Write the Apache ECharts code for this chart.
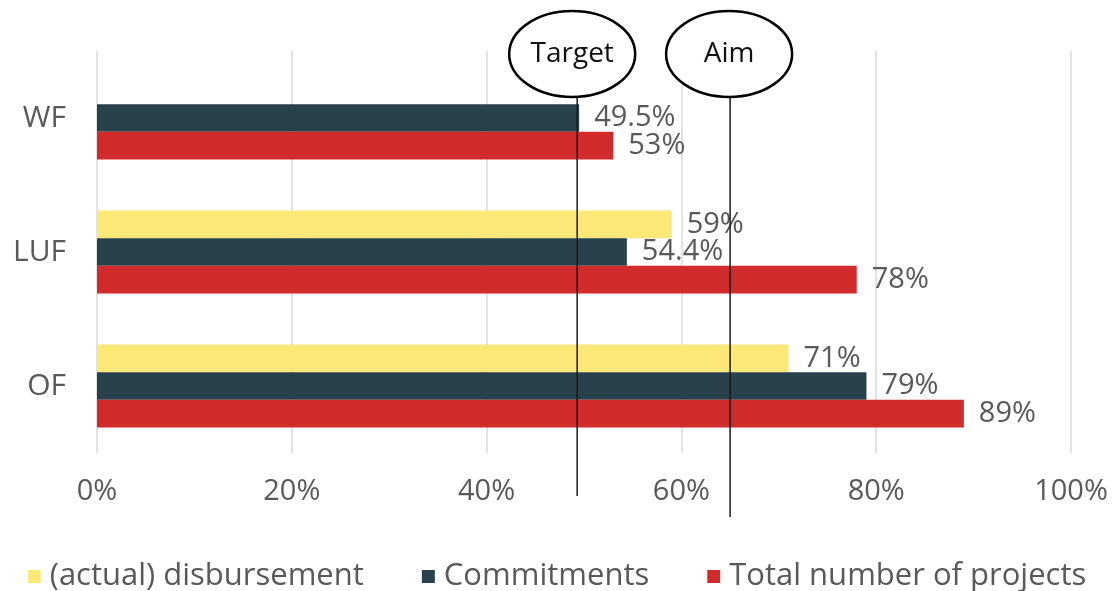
<!DOCTYPE html>
<html>
<head>
<meta charset="utf-8">
<script src="https://cdn.jsdelivr.net/npm/echarts@6/dist/echarts.min.js"></script>
<style>
html,body{margin:0;padding:0;background:#fff;}
#chart{width:1114px;height:591px;}
</style>
</head>
<body>
<div id="chart"></div>
<script>
const categories = ['WF', 'LUF', 'OF'];
const seriesNames = ['(actual) disbursement', 'Commitments', 'Total number of projects'];
const disbursement = [null, 59, 71];
const commitments = [49.5, 54.4, 79];
const totalProjects = [53, 78, 89];
const xTicks = [0, 20, 40, 60, 80, 100];
const refLines = [{name: 'Target', value: 49.3}, {name: 'Aim', value: 65}];

const FONT = '"Open Sans"';
const TXT = '#595959';
const W = 'normal';
const colors = ['#FBE877', '#29414A', '#D22B2B'];

const chart = echarts.init(document.getElementById('chart'), null, {renderer: 'canvas'});

function barSeries(name, data, color) {
  return {
    name: name,
    type: 'bar',
    data: data,
    barGap: '0%',
    barCategoryGap: '38%',
    itemStyle: {color: color},
    label: {
      show: true,
      position: 'right',
      distance: 15,
      color: TXT,
      fontFamily: FONT,
      fontWeight: W,
      fontSize: 29,
      formatter: p => p.value == null ? '' : p.value + '%'
    }
  };
}

chart.setOption({
  animation: false,
  backgroundColor: '#fff',
  grid: {left: 97, right: 43, top: 51, height: 402, containLabel: false},
  xAxis: {
    type: 'value',
    min: xTicks[0],
    max: xTicks[xTicks.length - 1],
    interval: 20,
    axisLine: {show: false},
    axisTick: {show: false},
    splitLine: {show: true, lineStyle: {color: '#D9D9D9', width: 1.5}},
    axisLabel: {color: TXT, fontFamily: FONT, fontWeight: W, fontSize: 29, margin: 24, formatter: v => v + '%'}
  },
  yAxis: {
    type: 'category',
    data: categories,
    inverse: true,
    axisLine: {show: false},
    axisTick: {show: false},
    axisLabel: {color: TXT, fontFamily: FONT, fontWeight: W, fontSize: 30, margin: 31}
  },
  legend: {
    top: 556,
    left: 'center',
    itemWidth: 13,
    itemHeight: 13,
    itemGap: 58,
    icon: 'rect',
    data: seriesNames,
    textStyle: {color: TXT, fontFamily: FONT, fontWeight: W, fontSize: 31, padding: [0, 0, 0, 4]}
  },
  series: [
    barSeries(seriesNames[0], disbursement, colors[0]),
    barSeries(seriesNames[1], commitments, colors[1]),
    barSeries(seriesNames[2], totalProjects, colors[2])
  ]
});

// Reference lines with ellipse captions, positioned through the axis scale
const ends = [496, 517];
const offs = [-5, -1];
const graphics = [];
refLines.forEach((r, i) => {
  const x = chart.convertToPixel({gridIndex: 0}, [r.value, 0])[0];
  const cy = 54;
  graphics.push({
    type: 'line',
    shape: {x1: x, y1: cy + 43, x2: x, y2: ends[i]},
    style: {stroke: '#1a1a1a', lineWidth: 1.5},
    z: 100
  });
  graphics.push({
    type: 'ellipse',
    shape: {cx: x + offs[i], cy: cy, rx: 63, ry: 43},
    style: {fill: '#fff', stroke: '#000', lineWidth: 2.5},
    z: 100
  });
  graphics.push({
    type: 'text',
    x: x + offs[i],
    y: cy,
    style: {text: r.name, fill: '#111', font: '28px ' + FONT, align: 'center', verticalAlign: 'middle'},
    z: 101
  });
});
chart.setOption({graphic: graphics});
</script>
</body>
</html>
